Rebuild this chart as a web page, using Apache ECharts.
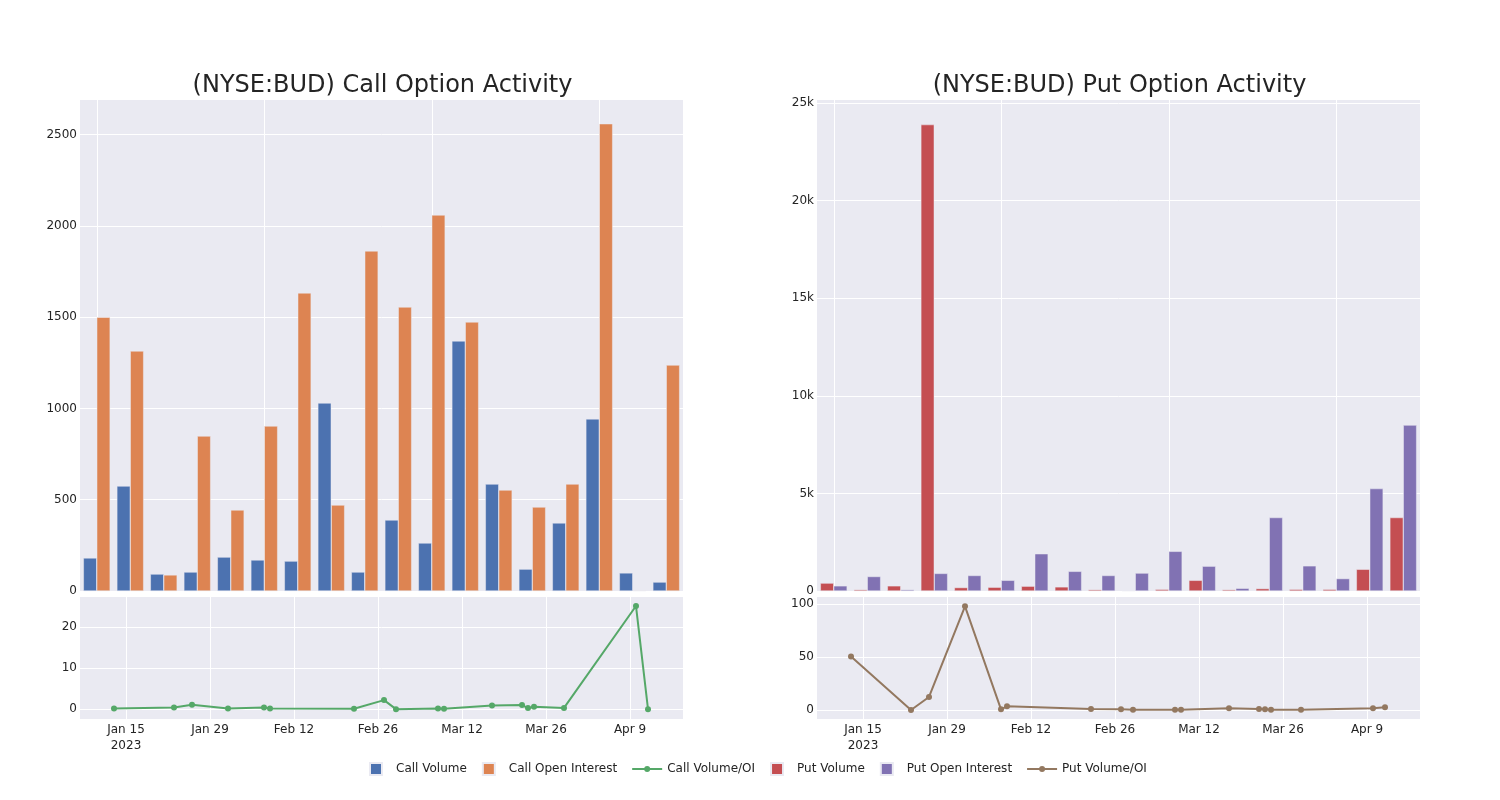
<!DOCTYPE html>
<html>
<head>
<meta charset="utf-8">
<script src="https://cdn.jsdelivr.net/npm/echarts@6/dist/echarts.min.js"></script>
<style>html,body{margin:0;padding:0;background:#fff}#c{width:1500px;height:800px}</style>
</head>
<body>
<div id="c"></div>
<script>
// ---- data ----
const dates = ['2023-01-13','2023-01-23','2023-01-26','2023-02-01','2023-02-07','2023-02-08','2023-02-22','2023-02-27','2023-03-01','2023-03-08','2023-03-09','2023-03-17','2023-03-22','2023-03-23','2023-03-24','2023-03-29','2023-04-10','2023-04-12'];
const callVolume = [181, 575, 93, 104, 186, 170, 164, 1030, 104, 389, 263, 1370, 586, 120, 373, 943, 99, 49];
const callOpenInterest = [1500, 1315, 88, 849, 444, 904, 1633, 471, 1863, 1556, 2060, 1474, 553, 460, 586, 2560, 3, 1238];
const callVolOI = [0.15, 0.4, 1.05, 0.15, 0.4, 0.15, 0.1, 2.2, 0.0, 0.15, 0.1, 0.9, 1.0, 0.25, 0.6, 0.3, 25.1, 0.0];
const putVolume = [406, 70, 265, 23890, 177, 194, 247, 212, 70, 18, 88, 548, 70, 124, 88, 88, 1113, 3763];
const putOpenInterest = [265, 742, 70, 901, 795, 548, 1908, 1007, 795, 919, 2032, 1272, 141, 3763, 1290, 636, 5247, 8498];
const putVolOI = [50.5, 0, 12.3, 97.8, 0.6, 3.5, 0.9, 0.6, 0.3, 0.3, 0.3, 1.6, 0.9, 0.6, 0.3, 0.3, 1.6, 2.5];
const dateTicks = ['2023-01-15','2023-01-29','2023-02-12','2023-02-26','2023-03-12','2023-03-26','2023-04-09'];
const callBarTicks = [0, 500, 1000, 1500, 2000, 2500];
const putBarTicks = [0, 5000, 10000, 15000, 20000, 25000];
const callRatioTicks = [0, 10, 20];
const putRatioTicks = [0, 50, 100];
const titles = ['(NYSE:BUD) Call Option Activity', '(NYSE:BUD) Put Option Activity'];

// ---- styling ----
const FONT = '"DejaVu Sans", sans-serif';
const TXT = '#242424';
const BG = '#EAEAF2';
const C = {cv:'#4C72B0', coi:'#DD8452', cr:'#55A868', pv:'#C44E52', poi:'#8172B3', pr:'#937860'};
const MONTHS = ['Jan','Feb','Mar','Apr','May','Jun','Jul','Aug','Sep','Oct','Nov','Dec'];
const ts = s => Date.parse(s + 'T00:00:00Z');
const xMin = Date.parse('2023-01-07T08:00:00Z');
const xMax = Date.parse('2023-04-17T20:00:00Z');
const dateTickVals = dateTicks.map(ts);

function fmtDate(v) {
  const d = new Date(v);
  let s = MONTHS[d.getUTCMonth()] + ' ' + d.getUTCDate();
  if (v === dateTickVals[0]) s += '\n' + d.getUTCFullYear();
  return s;
}

const grids = [
  {left: 80, width: 603, top: 100, height: 491},
  {left: 80, width: 603, top: 597, height: 122},
  {left: 817, width: 603, top: 100, height: 491},
  {left: 817, width: 603, top: 597, height: 122}
].map(g => Object.assign({backgroundColor: BG, show: true, borderWidth: 0, containLabel: false}, g));

const splitLine = {show: true, lineStyle: {color: '#fff', width: 1}};
const label = {color: TXT, fontFamily: FONT, fontSize: 12};

function catAxis(gi) {
  return {
    type: 'category', gridIndex: gi, data: dates,
    axisLine: {show: false}, axisTick: {show: false}, axisLabel: {show: false},
    splitLine: Object.assign({alignWithLabel: true, interval: 4}, splitLine)
  };
}
function dateAxis(gi) {
  return {
    type: 'value', gridIndex: gi, min: xMin, max: xMax,
    axisLine: {show: false},
    axisTick: {show: false, customValues: dateTickVals},
    axisLabel: Object.assign({customValues: dateTickVals, formatter: fmtDate, margin: 3, lineHeight: 16, hideOverlap: false}, label),
    splitLine: splitLine
  };
}
function valAxis(gi, min, max, ticks, fmt) {
  return {
    type: 'value', gridIndex: gi, min: min, max: max,
    axisLine: {show: false},
    axisTick: {show: false, customValues: ticks},
    axisLabel: Object.assign({customValues: ticks, margin: 3, formatter: fmt || (v => String(v))}, label),
    splitLine: splitLine
  };
}
const kfmt = v => v === 0 ? '0' : (v / 1000) + 'k';

const barStyle = c => ({color: c, borderColor: BG, borderWidth: 0.5});
const lineSeries = (name, xi, vals, c) => ({
  name: name, type: 'line', xAxisIndex: xi, yAxisIndex: xi,
  data: dates.map((d, i) => [ts(d), vals[i]]),
  symbol: 'circle', symbolSize: 6, showSymbol: true,
  lineStyle: {color: c, width: 2}, itemStyle: {color: c}
});
const barSeries = (name, xi, vals, c) => ({
  name: name, type: 'bar', xAxisIndex: xi, yAxisIndex: xi, data: vals,
  barGap: '0%', barCategoryGap: '20%', itemStyle: barStyle(c)
});

const sq = 'path://M0,0L10,0L10,10L0,10Z';
const lineIcon = 'path://M0,5L12.2,5L12.2,7L0,7Z M17.8,5L30,5L30,7L17.8,7Z M18,6A3,3 0 1 1 12,6A3,3 0 1 1 18,6Z';
const titleStyle = {fontFamily: FONT, fontSize: 24, fontWeight: 'normal', color: TXT};
const option = {
  animation: false,
  backgroundColor: '#fff',
  textStyle: {fontFamily: FONT},
  title: [
    {text: titles[0], left: 377.5, top: 69, textAlign: 'center', textStyle: titleStyle},
    {text: titles[1], left: 1114.5, top: 69, textAlign: 'center', textStyle: titleStyle}
  ],
  legend: {
    left: 364, top: 757, itemWidth: 30, itemHeight: 12, itemGap: 15,
    textStyle: {color: TXT, fontFamily: FONT, fontSize: 12},
    data: [
      {name: 'Call Volume', icon: sq},
      {name: 'Call Open Interest', icon: sq},
      {name: 'Call Volume/OI', icon: lineIcon},
      {name: 'Put Volume', icon: sq},
      {name: 'Put Open Interest', icon: sq},
      {name: 'Put Volume/OI', icon: lineIcon}
    ]
  },
  grid: grids,
  xAxis: [catAxis(0), dateAxis(1), catAxis(2), dateAxis(3)],
  yAxis: [
    valAxis(0, 0, 2690, callBarTicks),
    valAxis(1, -2.4, 27.3, callRatioTicks),
    valAxis(2, 0, 25150, putBarTicks, kfmt),
    valAxis(3, -8.5, 106.6, putRatioTicks)
  ],
  series: [
    barSeries('Call Volume', 0, callVolume, C.cv),
    barSeries('Call Open Interest', 0, callOpenInterest, C.coi),
    lineSeries('Call Volume/OI', 1, callVolOI, C.cr),
    barSeries('Put Volume', 2, putVolume, C.pv),
    barSeries('Put Open Interest', 2, putOpenInterest, C.poi),
    lineSeries('Put Volume/OI', 3, putVolOI, C.pr)
  ]
};
echarts.init(document.getElementById('c'), null, {renderer: 'canvas'}).setOption(option);
</script>
</body>
</html>
